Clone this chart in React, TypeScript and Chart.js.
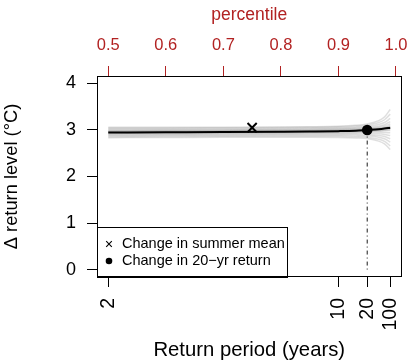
import React, { useEffect, useRef } from 'react';
import { Chart, registerables } from 'chart.js';

Chart.register(...registerables);

const FONT = "'Liberation Sans', Arial, Helvetica, sans-serif";
const AXIS_RED = '#B22222';

// Percentiles at which the return-level changes are tabulated
const percentiles = [0.5, 0.6, 0.7, 0.8, 0.85, 0.9, 0.93, 0.95, 0.97, 0.98, 0.99];

// Central estimate of the change in return level (°C)
const centralChange = [2.945, 2.95, 2.955, 2.962, 2.967, 2.975, 2.985, 3.0, 3.015, 3.03, 3.05];

// Resampled estimates of the change in return level (°C)
const sample01 = [3.06, 3.06, 3.06, 3.065, 3.07, 3.08, 3.1, 3.13, 3.2, 3.28, 3.44];
const sample02 = [3.045, 3.045, 3.048, 3.052, 3.057, 3.067, 3.083, 3.105, 3.16, 3.22, 3.34];
const sample03 = [3.025, 3.025, 3.028, 3.033, 3.038, 3.048, 3.06, 3.078, 3.12, 3.16, 3.25];
const sample04 = [3.005, 3.006, 3.01, 3.015, 3.02, 3.03, 3.04, 3.055, 3.085, 3.115, 3.18];
const sample05 = [2.99, 2.992, 2.996, 3.0, 3.005, 3.014, 3.024, 3.036, 3.06, 3.085, 3.13];
const sample06 = [2.975, 2.978, 2.982, 2.988, 2.993, 3.0, 3.01, 3.02, 3.04, 3.06, 3.095];
const sample07 = [2.962, 2.966, 2.97, 2.975, 2.98, 2.987, 2.996, 3.006, 3.02, 3.035, 3.06];
const sample08 = [2.95, 2.954, 2.958, 2.964, 2.968, 2.974, 2.982, 2.99, 3.0, 3.01, 3.025];
const sample09 = [2.938, 2.942, 2.946, 2.952, 2.956, 2.96, 2.966, 2.972, 2.976, 2.982, 2.99];
const sample10 = [2.925, 2.929, 2.933, 2.939, 2.943, 2.946, 2.949, 2.952, 2.95, 2.948, 2.94];
const sample11 = [2.91, 2.914, 2.918, 2.923, 2.927, 2.929, 2.929, 2.927, 2.918, 2.905, 2.88];
const sample12 = [2.893, 2.897, 2.901, 2.906, 2.909, 2.91, 2.906, 2.9, 2.882, 2.86, 2.81];
const sample13 = [2.875, 2.879, 2.883, 2.887, 2.889, 2.888, 2.882, 2.872, 2.845, 2.81, 2.74];
const sample14 = [2.855, 2.859, 2.863, 2.866, 2.867, 2.865, 2.856, 2.842, 2.8, 2.755, 2.66];
const sample15 = [2.835, 2.839, 2.843, 2.845, 2.845, 2.84, 2.83, 2.815, 2.76, 2.7, 2.58];
const sample16 = [2.97, 2.972, 2.975, 2.98, 2.985, 2.992, 3.003, 3.013, 3.03, 3.048, 3.075];
const sample17 = [2.942, 2.945, 2.949, 2.955, 2.96, 2.966, 2.974, 2.98, 2.99, 2.997, 3.01];
const sampleChanges = [
  sample01, sample02, sample03, sample04, sample05, sample06, sample07, sample08, sample09,
  sample10, sample11, sample12, sample13, sample14, sample15, sample16, sample17,
];

// Marked points
const summerMeanPercentile = 0.75;
const summerMeanChange = 3.05;
const markedReturnPeriod = 20;
const markedReturnChange = 3.0;

// Axis ticks
const returnPeriodTicks = [2, 10, 20, 100];
const percentileTicks = [0.5, 0.6, 0.7, 0.8, 0.9, 1.0];
const levelTicks = [0, 1, 2, 3, 4];

const legendLabels = ['Change in summer mean', 'Change in 20\u2212yr return'];

const X_MIN = 0.4804;
const X_MAX = 1.0096;
const Y_MIN = -0.16;
const Y_MAX = 4.16;

const toPercentile = (T: number) => 1 - 1 / T;
const series = (ys: number[]) => percentiles.map((p, i) => ({ x: p, y: ys[i] }));

const fixSize = (opts: { width?: number; height?: number }) => (scale: any) => {
  if (opts.width !== undefined) scale.width = opts.width;
  if (opts.height !== undefined) scale.height = opts.height;
  scale.paddingLeft = 0;
  scale.paddingRight = 0;
  scale.paddingTop = 0;
  scale.paddingBottom = 0;
};

// Plot frame plus the boxed legend in the lower-left corner
const frameAndLegend = {
  id: 'frameAndLegend',
  afterDatasetsDraw(chart: any) {
    const { ctx, chartArea: a } = chart;
    ctx.save();

    const boxW = 190;
    const boxH = 50;
    const bx = Math.round(a.left) + 0.5;
    const by = Math.round(a.bottom - boxH) + 0.5;
    ctx.fillStyle = '#fff';
    ctx.fillRect(bx, by, boxW, boxH);
    ctx.strokeStyle = '#000';
    ctx.lineWidth = 1;
    ctx.strokeRect(bx, by, boxW, boxH);

    const symX = a.left + 12;
    const textX = a.left + 25;
    const rowY = [a.bottom - 33, a.bottom - 16];
    ctx.font = `14.5px ${FONT}`;
    ctx.textBaseline = 'middle';
    ctx.textAlign = 'left';
    ctx.fillStyle = '#000';

    // × marker
    const s = 2.8;
    ctx.beginPath();
    ctx.moveTo(symX - s, rowY[0] - s);
    ctx.lineTo(symX + s, rowY[0] + s);
    ctx.moveTo(symX + s, rowY[0] - s);
    ctx.lineTo(symX - s, rowY[0] + s);
    ctx.lineWidth = 1.1;
    ctx.stroke();
    ctx.fillText(legendLabels[0], textX, rowY[0]);

    // ● marker
    ctx.beginPath();
    ctx.arc(symX, rowY[1], 3.3, 0, Math.PI * 2);
    ctx.fill();
    ctx.fillText(legendLabels[1], textX, rowY[1]);

    // frame around the plotting region
    ctx.lineWidth = 1;
    ctx.strokeRect(
      Math.round(a.left) + 0.5,
      Math.round(a.top) + 0.5,
      Math.round(a.right - a.left) - 1,
      Math.round(a.bottom - a.top) - 1,
    );
    ctx.restore();
  },
};

export default function App() {
  const canvasRef = useRef<HTMLCanvasElement>(null);

  useEffect(() => {
    const canvas = canvasRef.current;
    if (!canvas) return;

    const greyDatasets = sampleChanges.map((ys) => ({
      type: 'line' as const,
      data: series(ys),
      borderColor: 'rgba(150,150,150,0.3)',
      borderWidth: 1.5,
      pointRadius: 0,
      cubicInterpolationMode: 'monotone' as const,
      order: 4,
    }));

    const chart = new Chart(canvas, {
      type: 'line',
      data: {
        datasets: [
          {
            label: legendLabels[1],
            data: [{ x: toPercentile(markedReturnPeriod), y: markedReturnChange }],
            showLine: false,
            pointStyle: 'circle',
            pointRadius: 5.3,
            pointBackgroundColor: '#000',
            pointBorderWidth: 0,
            order: 0,
          },
          {
            label: legendLabels[0],
            data: [{ x: summerMeanPercentile, y: summerMeanChange }],
            showLine: false,
            pointStyle: 'crossRot',
            pointRadius: 6.5,
            pointBorderColor: '#000',
            pointBorderWidth: 2,
            order: 0,
          },
          {
            data: series(centralChange),
            borderColor: '#000',
            borderWidth: 2,
            pointRadius: 0,
            cubicInterpolationMode: 'monotone',
            order: 1,
          },
          {
            data: [
              { x: toPercentile(markedReturnPeriod), y: 0 },
              { x: toPercentile(markedReturnPeriod), y: markedReturnChange },
            ],
            borderColor: '#1a1a1a',
            borderWidth: 1,
            borderDash: [1, 3, 4, 3],
            pointRadius: 0,
            order: 2,
          },
          ...greyDatasets,
        ] as any,
      },
      options: {
        animation: false,
        responsive: false,
        devicePixelRatio: 1,
        parsing: false,
        layout: { padding: { left: 0, right: 7, top: 0, bottom: 0 } },
        plugins: {
          legend: { display: false },
          tooltip: { enabled: false },
        },
        scales: {
          x: {
            type: 'linear',
            position: 'bottom',
            min: X_MIN,
            max: X_MAX,
            afterBuildTicks: (scale: any) => {
              scale.ticks = returnPeriodTicks.map((T) => ({ value: toPercentile(T) }));
            },
            afterFit: fixSize({ height: 84 }),
            ticks: {
              autoSkip: false,
              minRotation: 90,
              maxRotation: 90,
              padding: 11,
              color: '#000',
              font: { family: FONT, size: 19.5 },
              callback: (_v: any, i: number) => String(returnPeriodTicks[i]),
            },
            grid: { drawOnChartArea: false, drawTicks: true, tickLength: 10, color: '#000', lineWidth: 1 },
            border: { display: false },
            title: {
              display: true,
              text: 'Return period (years)',
              color: '#000',
              font: { family: FONT, size: 20.3, lineHeight: 1 },
              padding: { top: 0, bottom: 0 },
            },
          },
          x2: {
            type: 'linear',
            axis: 'x',
            position: 'top',
            min: X_MIN,
            max: X_MAX,
            afterBuildTicks: (scale: any) => {
              scale.ticks = percentileTicks.map((p) => ({ value: p }));
            },
            afterFit: fixSize({ height: 76 }),
            ticks: {
              autoSkip: false,
              maxRotation: 0,
              padding: 11,
              color: AXIS_RED,
              font: { family: FONT, size: 16.5 },
              callback: (v: any) => Number(v).toFixed(1),
            },
            grid: { drawOnChartArea: false, drawTicks: true, tickLength: 10, color: AXIS_RED, lineWidth: 1 },
            border: { display: false },
            title: {
              display: true,
              text: 'percentile',
              color: AXIS_RED,
              font: { family: FONT, size: 17.5, lineHeight: 1 },
              padding: { top: 6.5, bottom: 0 },
            },
          },
          y: {
            type: 'linear',
            position: 'left',
            min: Y_MIN,
            max: Y_MAX,
            afterBuildTicks: (scale: any) => {
              scale.ticks = levelTicks.map((v) => ({ value: v }));
            },
            afterFit: fixSize({ width: 97 }),
            ticks: {
              autoSkip: false,
              padding: 11,
              color: '#000',
              font: { family: FONT, size: 18 },
              callback: (v: any) => String(v),
            },
            grid: { drawOnChartArea: false, drawTicks: true, tickLength: 10, color: '#000', lineWidth: 1 },
            border: { display: false },
            title: {
              display: true,
              text: '\u0394 return level (\u00B0C)',
              color: '#000',
              font: { family: FONT, size: 18.3, lineHeight: 1 },
              padding: { top: 2.8, bottom: 0 },
            },
          },
        },
      } as any,
      plugins: [frameAndLegend],
    });

    return () => chart.destroy();
  }, []);

  return (
    <div style={{ position: 'fixed', left: 0, top: 0, width: 410, height: 361, background: '#fff' }}>
      <canvas ref={canvasRef} width={410} height={361} style={{ display: 'block', width: 410, height: 361 }} />
    </div>
  );
}
